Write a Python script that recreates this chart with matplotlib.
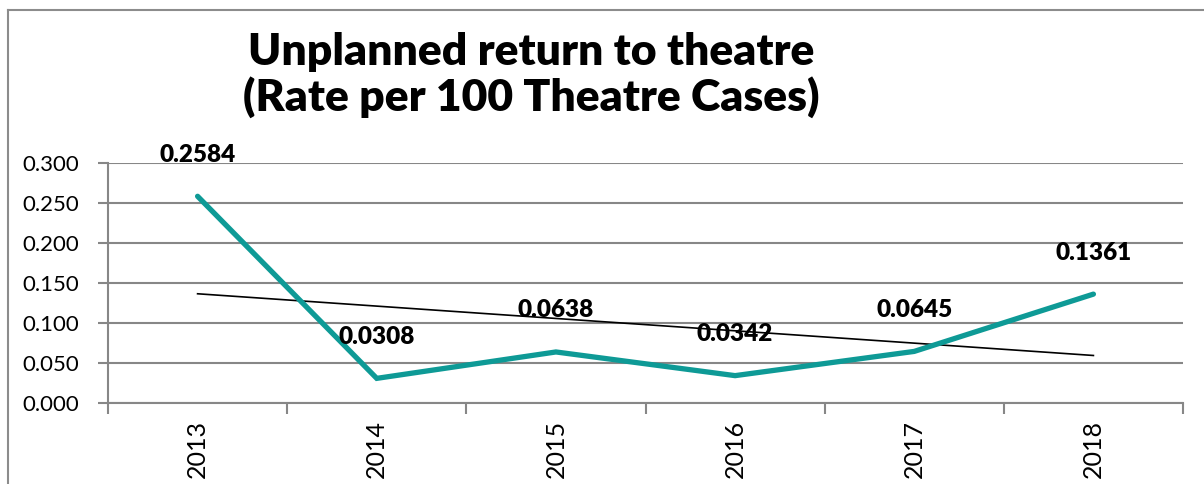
import numpy as np
import matplotlib
matplotlib.use("Agg")
import matplotlib.pyplot as plt
from matplotlib.lines import Line2D

years = ["2013", "2014", "2015", "2016", "2017", "2018"]
rates = [0.2584, 0.0308, 0.0638, 0.0342, 0.0645, 0.1361]
rate_labels = ["0.2584", "0.0308", "0.0638", "0.0342", "0.0645", "0.1361"]
yticks = [0.0, 0.05, 0.10, 0.15, 0.20, 0.25, 0.30]

plt.rcParams['font.family'] = ['Lato', 'DejaVu Sans']

W, H = 1204, 484
fig = plt.figure(figsize=(W / 100, H / 100), dpi=100)
ax = fig.add_axes([108 / W, 1 - 403 / H, (1183 - 108) / W, 240 / H])

x = np.arange(len(years))
grid_c = "#878787"

ax.set_xlim(-0.5, len(years) - 0.5)
ax.set_ylim(0, 0.3)
ax.set_yticks(yticks)
ax.set_yticklabels(["%.3f" % v for v in yticks], fontsize=16)
ax.yaxis.grid(True, color=grid_c, linewidth=1.5)
ax.set_axisbelow(True)
for s in ["top", "right"]:
    ax.spines[s].set_visible(False)
for s in ["left", "bottom"]:
    ax.spines[s].set_color(grid_c)
    ax.spines[s].set_linewidth(1.5)
ax.tick_params(axis="y", length=7, width=1.5, color=grid_c, pad=14)

# category ticks at the boundaries, labels at the centres
ax.set_xticks(np.arange(len(years) + 1) - 0.5)
ax.set_xticklabels([])
ax.set_xticks(x, minor=True)
ax.set_xticklabels(years, minor=True, rotation=90, fontsize=18)
ax.tick_params(axis="x", which="major", length=8, width=1.5, color=grid_c)
ax.tick_params(axis="x", which="minor", length=0, pad=12)

# linear trendline
k, b = np.polyfit(x, rates, 1)
ax.plot(x, k * x + b, color="black", linewidth=1.2, zorder=3)

ax.plot(x, rates, color="#0E9A96", linewidth=3.8, solid_capstyle="round",
        solid_joinstyle="miter", zorder=4)

for xi, v, lab in zip(x, rates, rate_labels):
    ax.annotate(lab, (xi, v), xytext=(0, 22), textcoords="offset points",
                ha="center", va="bottom", fontsize=17.5, fontweight="heavy",
                zorder=5)

fig.text(531 / W, 1 - 75 / H, "Unplanned return to theatre\n(Rate per 100 Theatre Cases)",
         ha="center", va="center", fontsize=32, fontweight="heavy",
         linespacing=1.1)

# outer chart frame
frame_c = "#8c8c8c"
fig.add_artist(Line2D([8 / W, 8 / W], [0, 1 - 10 / H], color=frame_c,
                      linewidth=1.5, transform=fig.transFigure))
fig.add_artist(Line2D([8 / W, 1], [1 - 10 / H, 1 - 10 / H], color=frame_c,
                      linewidth=1.5, transform=fig.transFigure))

fig.savefig("out.png", dpi=100)
